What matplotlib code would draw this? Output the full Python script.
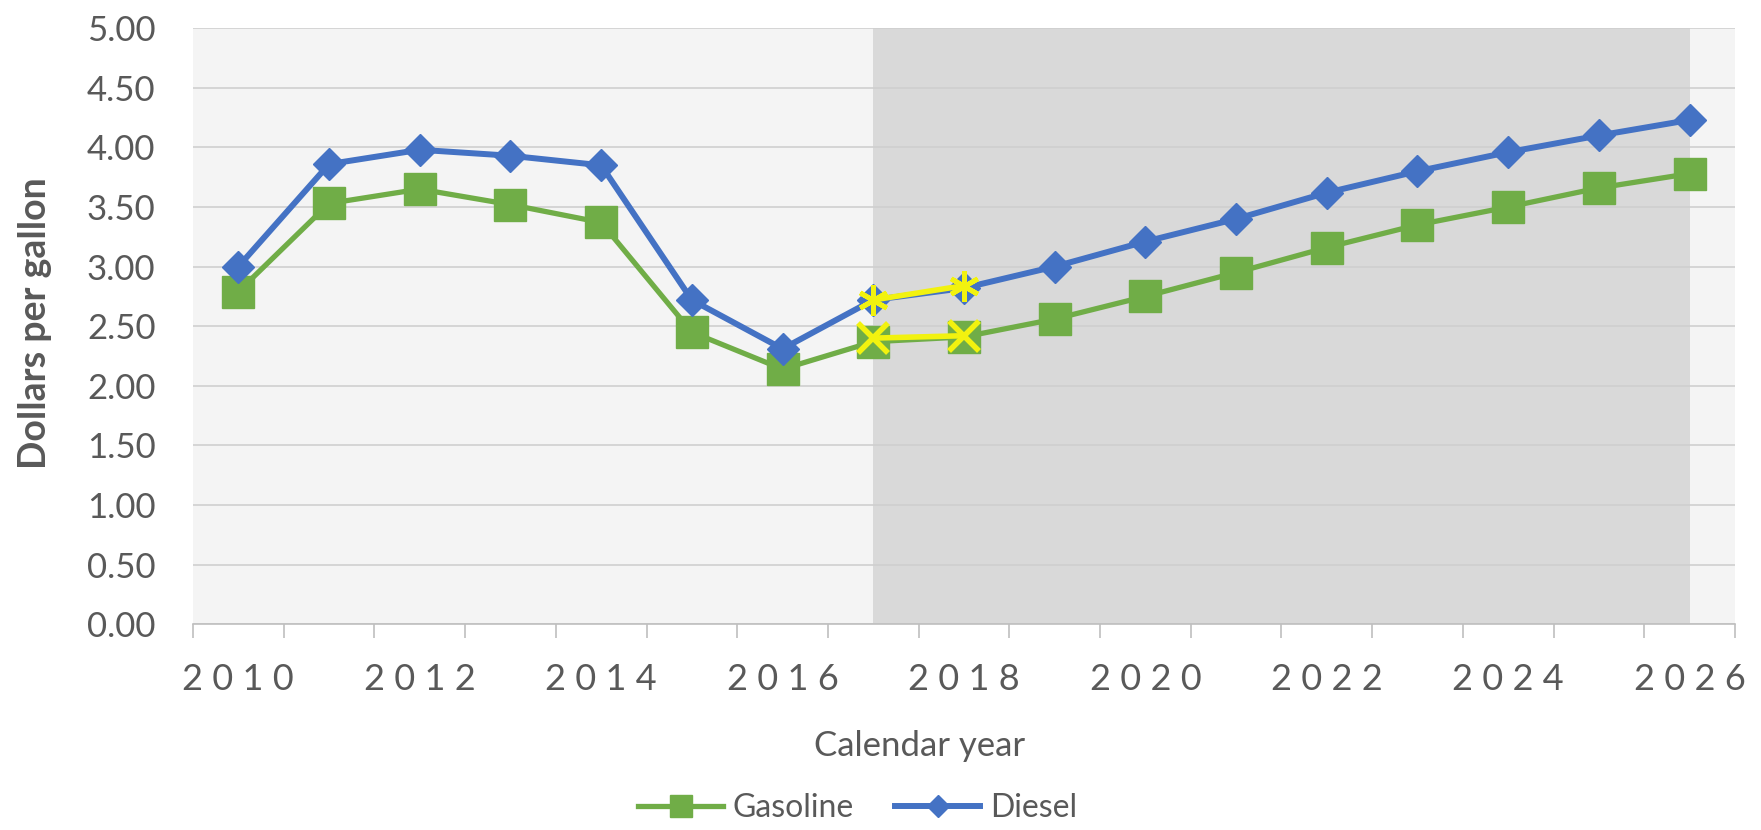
import matplotlib.pyplot as plt
import numpy as np

plt.rcParams['font.family'] = ['Lato', 'DejaVu Sans']

years = list(range(2010, 2027))
gasoline = [2.79, 3.53, 3.65, 3.52, 3.37, 2.45, 2.14, 2.37, 2.41, 2.56,
            2.75, 2.95, 3.16, 3.35, 3.50, 3.66, 3.78]
diesel = [3.00, 3.86, 3.98, 3.93, 3.85, 2.72, 2.31, 2.72, 2.82, 3.00,
          3.21, 3.40, 3.62, 3.80, 3.96, 4.10, 4.23]

# highlighted (yellow) points for 2017-2018
hl_years = [2017, 2018]
hl_gasoline = [2.40, 2.42]
hl_diesel = [2.72, 2.84]

forecast_start = 2017
forecast_end = 2026

text_color = '#595959'

fig = plt.figure(figsize=(17.61, 8.30), dpi=100)
ax = fig.add_axes([0.1096, 0.248, 0.8756, 0.718])
ax.set_facecolor('#f4f4f4')

x = np.arange(len(years))
hx = [years.index(y) for y in hl_years]

ax.axvspan(years.index(forecast_start), years.index(forecast_end),
           color='#d9d9d9', zorder=0.3, lw=0)

ax.plot(x, gasoline, color='#70ad47', lw=3.8, marker='s', ms=23,
        label='Gasoline', zorder=3)
ax.plot(x, diesel, color='#4472c4', lw=4.3, marker='D', ms=16,
        label='Diesel', zorder=4)

ax.plot(hx, hl_gasoline, color='#f2f20f', lw=4, marker='x', ms=21,
        mew=4, zorder=5)
ax.plot(hx, hl_diesel, color='#f2f20f', lw=4, marker=(6, 2, 0), ms=22,
        mew=3.5, zorder=5)

ax.set_xlim(-0.5, len(years) - 0.5)
ax.set_ylim(0, 5)

yt = np.arange(0, 5.01, 0.5)
ax.set_yticks(yt)
ax.set_yticklabels(['%.2f' % v for v in yt])
ax.set_xticks(x[::2])
ax.set_xticklabels([' '.join(str(y)) for y in years[::2]])
ax.set_xticks(np.arange(-0.5, len(years), 1), minor=True)

ax.tick_params(axis='y', length=0, labelsize=25, colors=text_color, pad=27)
ax.tick_params(axis='x', which='major', length=0, labelsize=26,
               colors=text_color, pad=28)
ax.tick_params(axis='x', which='minor', length=10, width=1.2,
               color='#bfbfbf')

ax.yaxis.grid(True, color='#cfcfcf', lw=1.2, zorder=0.5)
ax.set_axisbelow(True)
for s in ['left', 'top', 'right']:
    ax.spines[s].set_visible(False)
ax.spines['bottom'].set_color('#bfbfbf')
ax.spines['bottom'].set_linewidth(1.2)

ax.set_ylabel('Dollars per gallon', fontsize=27, fontweight='bold',
              color=text_color)
ax.yaxis.set_label_coords(-0.0914, 0.505)
ax.set_xlabel('Calendar year', fontsize=25, color=text_color)
ax.xaxis.set_label_coords(0.4715, -0.178)

fig.legend(loc='center', bbox_to_anchor=(0.487, 0.026), ncol=2,
           frameon=False, fontsize=23, markerscale=0.7, handlelength=2.65,
           columnspacing=1.3, handletextpad=0.3, labelcolor=text_color)

fig.savefig('out.png', dpi=100)
